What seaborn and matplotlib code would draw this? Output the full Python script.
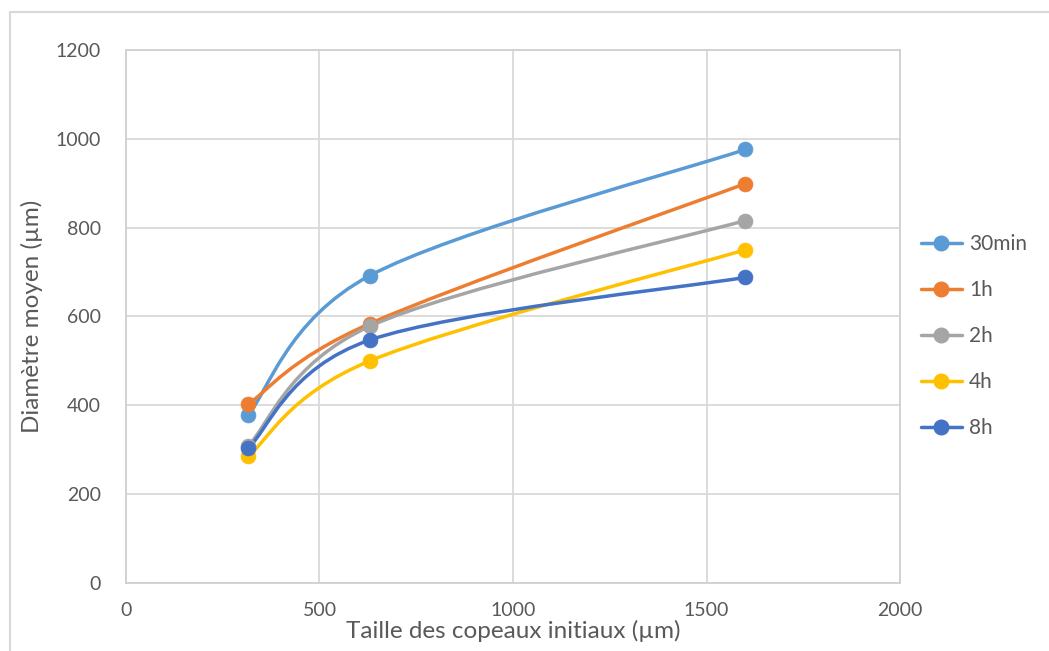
import numpy as np
import matplotlib
matplotlib.use("Agg")
import matplotlib.pyplot as plt
import seaborn as sns
from matplotlib.path import Path
from matplotlib.patches import PathPatch
from matplotlib.lines import Line2D

# données
taille = [315, 630, 1600]
series = ["30min", "1h", "2h", "4h", "8h"]
d_30min = [378, 692, 976]
d_1h = [402, 584, 899]
d_2h = [308, 578, 816]
d_4h = [285, 500, 750]
d_8h = [303, 547, 688]
valeurs = [d_30min, d_1h, d_2h, d_4h, d_8h]
couleurs = ["#5B9BD5", "#ED7D31", "#A5A5A5", "#FFC000", "#4472C4"]

x_ticks = [0, 500, 1000, 1500, 2000]
y_ticks = [0, 200, 400, 600, 800, 1000, 1200]

sns.set_style("white")
plt.rcParams["font.family"] = ["Lato", "DejaVu Sans"]

fig = plt.figure(figsize=(10.49, 6.51), dpi=100)
ax = fig.add_axes([0.1201, 0.1045, 0.858 - 0.1201, 0.9232 - 0.1045])


def courbe_lissee(xs, ys):
    # lissage type Excel (Catmull-Rom -> Bezier)
    pts = np.column_stack([xs, ys]).astype(float)
    n = len(pts)
    verts = [pts[0]]
    codes = [Path.MOVETO]
    for i in range(n - 1):
        p0 = pts[i - 1] if i > 0 else pts[i]
        p1 = pts[i]
        p2 = pts[i + 1]
        p3 = pts[i + 2] if i + 2 < n else pts[i + 1]
        c1 = p1 + (p2 - p0) / 6
        c2 = p2 - (p3 - p1) / 6
        verts += [c1, c2, p2]
        codes += [Path.CURVE4] * 3
    return Path(verts, codes)


for nom, ys, c in zip(series, valeurs, couleurs):
    patch = PathPatch(courbe_lissee(taille, ys), facecolor="none",
                      edgecolor=c, lw=2.5, capstyle="round", zorder=3)
    ax.add_patch(patch)
    sns.scatterplot(x=taille, y=ys, ax=ax, color=c, s=115,
                    edgecolor=c, linewidth=0.5, zorder=4, legend=False)

ax.set_xlim(0, 2000)
ax.set_ylim(0, 1200)
ax.set_xticks(x_ticks)
ax.set_yticks(y_ticks)
ax.grid(True, color="#D9D9D9", lw=1.3)
ax.set_axisbelow(True)
for s in ax.spines.values():
    s.set_color("#D0D0D0")
    s.set_linewidth(1.3)
ax.tick_params(axis="both", length=0, labelsize=14, labelcolor="#595959")
ax.tick_params(axis="x", pad=14)
ax.tick_params(axis="y", pad=18)

ax.set_xlabel("Taille des copeaux initiaux (µm)", fontsize=17.5, color="#595959",
              labelpad=0)
ax.set_ylabel("Diamètre moyen (µm)", fontsize=17.5, color="#595959", labelpad=9)

handles = [Line2D([0], [0], color=c, lw=2.5, marker="o", markersize=10.5,
                  markeredgecolor=c) for c in couleurs]
leg = fig.legend(handles, series, loc="upper left",
                 bbox_to_anchor=(0.860, 0.669), frameon=False,
                 fontsize=15, handlelength=1.95, labelspacing=1.25,
                 handletextpad=0.35)
for t in leg.get_texts():
    t.set_color("#595959")

# cadre de la zone de graphique
fig.add_artist(Line2D([10 / 1049, 10 / 1049], [0, 1 - 12 / 651],
                      transform=fig.transFigure, color="#D9D9D9", lw=1.5))
fig.add_artist(Line2D([10 / 1049, 1], [1 - 12 / 651, 1 - 12 / 651],
                      transform=fig.transFigure, color="#D9D9D9", lw=1.5))

plt.savefig("out.png", dpi=100)
